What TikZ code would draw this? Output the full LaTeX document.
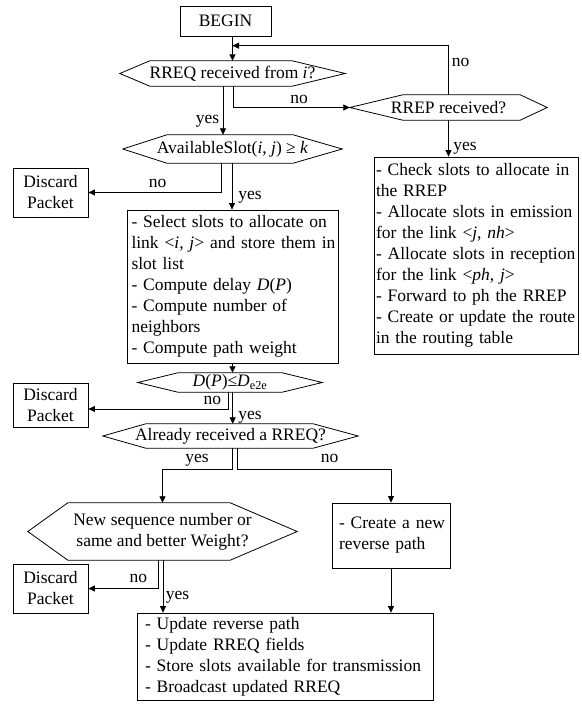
\documentclass[tikz,border=0pt]{standalone}
\usepackage{fontspec}
\setmainfont{Liberation Serif}
\usetikzlibrary{arrows.meta,calc}
\newcommand\hexnode[8]{%
  \node[hexn, minimum width=#4pt, minimum height=#5pt] (#1) at (#2,#3) {#8};
  \draw[ln] (#1.west) -- ([xshift=#6pt]#1.north west) -- ([xshift=-#7pt]#1.north east) -- (#1.east)
     -- ([xshift=-#7pt]#1.south east) -- ([xshift=#6pt]#1.south west) -- cycle;}
\newcommand\nobr[1]{\mbox{#1}}
\begin{document}
\begin{tikzpicture}[x=1pt,y=-1pt,
  every node/.style={font=\fontsize{17.5}{21}\selectfont},
  ln/.style={line width=0.8pt},
  arr/.style={ln,-{Triangle[length=6.5pt,width=6pt]}},
  hexn/.style={inner sep=0pt, align=center},
  box/.style={draw, line width=0.8pt, inner ysep=0pt},
  dbox/.style={box, minimum width=75pt, inner xsep=0pt, align=center},
  tbox/.style={box, align=left},
  lbl/.style={inner sep=0pt, anchor=base}]
\useasboundingbox (0,0) rectangle (581,709);

% nodes
\node[box, minimum width=91pt, minimum height=30pt] (begin) at (225.5,21) {BEGIN};
\hexnode{rreq}{232.5}{73.5}{225}{25}{30}{53}{RREQ received from \textit{i}?}
\hexnode{rrep}{448.5}{107.5}{197}{25}{53}{27}{RREP received?}
\hexnode{avail}{232.5}{149}{219}{28}{44}{49}{AvailableSlot(\textit{i}, \textit{j}) ≥ \textit{k}}
\node[dbox, minimum height=49pt] (d1) at (50.5,192.5) {Discard\\Packet};
\node[tbox, minimum height=197pt, inner xsep=2pt, text width=200pt] (rbox) at (476,255.5)
  {\nobr{- Check slots to allocate in}\\the RREP\\\nobr{- Allocate slots in emission}\\for the link <\textit{j}, \textit{nh}>\\\nobr{- Allocate slots in reception}\\for the link <\textit{ph}, \textit{j}>\\\nobr{- Forward to ph the RREP}\\\nobr{- Create or update the route}\\in the routing table};
\node[tbox, minimum height=153pt, inner xsep=4.5pt, text width=202pt] (sel) at (232.5,286.5)
  {\nobr{- Select slots to allocate on}\\\nobr{link <\textit{i}, \textit{j}> and store them in}\\slot list\\- Compute delay \textit{D}(\textit{P})\\- Compute number of\\neighbors\\- Compute path weight};
\hexnode{dp}{230}{382.5}{184}{19}{40}{40}{\textit{D}(\textit{P})≤\textit{D}\textsubscript{e2e}}
\node[dbox, minimum height=44pt] (d2) at (50.5,405) {Discard\\Packet};
\hexnode{already}{230.5}{436}{255}{24}{43}{45}{Already received a RREQ?}
\hexnode{new}{162.5}{531.5}{269}{57}{40}{67}{New sequence number or\\same and better Weight?}
\node[tbox, minimum height=65pt, inner xsep=7pt, text width=104pt] (create) at (391,535.5)
  {\nobr{- Create a new}\\reverse path};
\node[dbox, minimum height=49pt] (d3) at (50.5,588.5) {Discard\\Packet};
\node[tbox, minimum height=87pt, inner xsep=8pt, text width=280pt] (bot) at (285,656.5)
  {- Update reverse path\\- Update RREQ fields\\\nobr{- Store slots available for transmission}\\- Broadcast updated RREQ};
\coordinate (loop) at (232.5,45.7);

% connectors
\draw[arr] (rreq.north |- begin.south) -- (rreq.north);
\draw[arr] ([xshift=-9.5pt]rreq.south) -- ([xshift=-9.5pt]rreq.south |- avail.north);
\draw[arr] ([xshift=0.5pt]rreq.south) |- (rrep.west);
\draw[arr] (rrep.north) |- (loop);
\draw[arr] (rrep.south) -- (rrep.south |- rbox.north);
\draw[arr] ([xshift=-11.5pt]avail.south) |- (d1.east);
\draw[arr] ([xshift=-0.5pt]avail.south) -- ([xshift=-0.5pt]avail.south |- sel.north);
\draw[arr] (sel.south) -- (sel.south |- dp.north);
\draw[arr] ([xshift=-2pt]dp.south) |- ([yshift=-4pt]d2.east);
\draw[arr] ([xshift=2.7pt]dp.south) -- ([xshift=2.7pt]dp.south |- already.north);
\draw[arr] ([xshift=1.5pt]already.south) -- ++(0,21) -| (new.north);
\draw[arr] ([xshift=6.5pt]already.south) -- ++(0,21) -| (create.north);
\draw[arr] ([xshift=-4.5pt]new.south) |- (d3.east);
\draw[arr] ([xshift=0.5pt]new.south) -- ([xshift=0.5pt]new.south |- bot.north);
\draw[arr] (create.south) -- (create.south |- bot.north);

% labels
\node[lbl] (l1) at (207.5,123.5) {yes};
\node[lbl] (l2) at (299,103.5) {no};
\node[lbl] (l3) at (460.5,66.5) {no};
\node[lbl] (l4) at (465,150) {yes};
\node[lbl] (l5) at (157.5,187.7) {no};
\node[lbl] (l6) at (250,199.3) {yes};
\node[lbl] (l7) at (212.3,404) {no};
\node[lbl] (l8) at (250,419.3) {yes};
\node[lbl] (l9) at (197,462.7) {yes};
\node[lbl] (l10) at (329.7,462.7) {no};
\node[lbl] (l11) at (138.3,582.7) {no};
\node[lbl] (l12) at (177.5,599) {yes};
\end{tikzpicture}
\end{document}
